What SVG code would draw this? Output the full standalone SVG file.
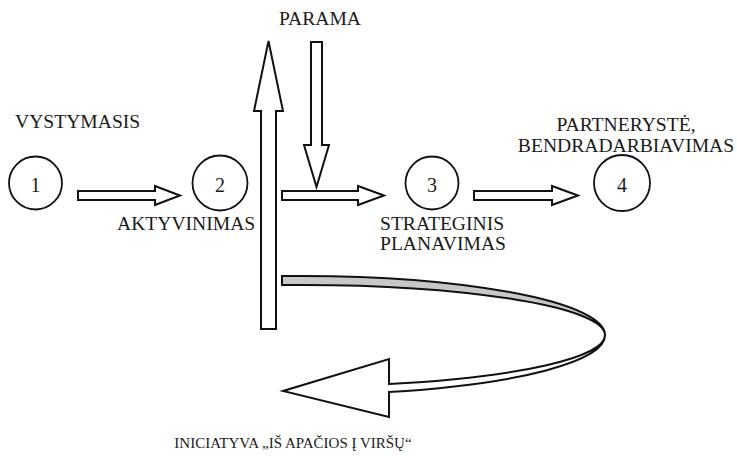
<svg xmlns="http://www.w3.org/2000/svg" width="737" height="456" viewBox="0 0 737 456">
<style>
  .lbl { font-family: "Liberation Serif", "Times New Roman", serif; font-size: 19.6px; fill: #1a1a1a; }
  .num { font-family: "Liberation Serif", "Times New Roman", serif; font-size: 20px; fill: #1a1a1a; text-anchor: middle; }
  .small { font-family: "Liberation Serif", "Times New Roman", serif; font-size: 15px; fill: #1a1a1a; }
  .node { fill: #ffffff; stroke: #111111; stroke-width: 1.8; }
  .blk { fill: #ffffff; stroke: #111111; stroke-width: 2; stroke-linejoin: miter; }
  .band { fill: #c8c8c8; stroke: #111111; stroke-width: 2; }
</style>
<rect width="737" height="456" fill="#ffffff"/>

<g id="connectors">
  <path id="arrow-1-2" class="blk" d="M78,191 H155 V186 L180,195.5 L155,205 V200 H78 Z"/>
  <path id="arrow-2-3" class="blk" d="M282,191 H358 V186 L384,195.5 L358,205 V200 H282 Z"/>
  <path id="arrow-3-4" class="blk" d="M474,191 H552 V186 L578,195.5 L552,205 V200 H474 Z"/>
  <path id="arrow-up" class="blk" d="M261,329 V111 H254 L268.5,41 L283,111 H276 V329 Z"/>
  <path id="arrow-parama" class="blk" d="M311,42 H322 V145 H329 L316.5,187 L304,145 H311 Z"/>
  <path id="curve-top" class="band" d="M282,276 A305,59 0 0 1 605,335 A305,50 0 0 0 282,285 Z"/>
  <path id="curve-bottom" class="blk" d="M389,384 L389,359 L283,391 L389,417 L389,392 A305,59 0 0 0 605,335 A305,51 0 0 1 389,384 Z"/>
  <text class="lbl" x="320" y="25" text-anchor="middle">PARAMA</text>
  <text class="small" x="293" y="448" text-anchor="middle">INICIATYVA „IŠ APAČIOS Į VIRŠŲ“</text>
</g>

<g id="node1">
  <circle class="node" cx="35.5" cy="183" r="26.5"/>
  <text class="num" x="35.5" y="192">1</text>
  <text class="lbl" x="15" y="128">VYSTYMASIS</text>
</g>

<g id="node2">
  <circle class="node" cx="220" cy="183" r="27.5"/>
  <text class="num" x="220" y="192">2</text>
  <text class="lbl" x="117" y="230">AKTYVINIMAS</text>
</g>

<g id="node3">
  <circle class="node" cx="432" cy="183" r="26.5"/>
  <text class="num" x="432" y="192">3</text>
  <text class="lbl" x="380" y="230">STRATEGINIS</text>
  <text class="lbl" x="380" y="250">PLANAVIMAS</text>
</g>

<g id="node4">
  <circle class="node" cx="622" cy="183" r="28"/>
  <text class="num" x="622" y="192">4</text>
  <text class="lbl" x="626" y="131" text-anchor="middle">PARTNERYSTĖ,</text>
  <text class="lbl" x="626" y="152" text-anchor="middle">BENDRADARBIAVIMAS</text>
</g>
</svg>
